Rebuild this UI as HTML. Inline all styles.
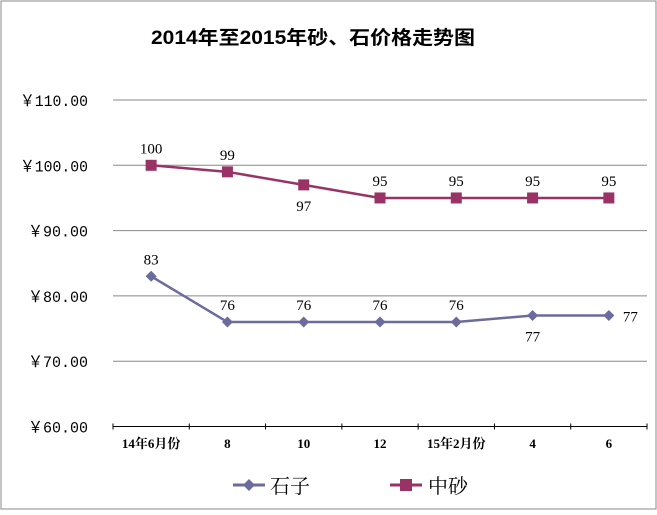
<!DOCTYPE html>
<html><head><meta charset="utf-8"><style>
body{margin:0;background:#fff}
svg text{font-family:"Liberation Serif","Noto Serif CJK SC",serif}
</style></head><body>
<svg width="657" height="510">
<rect x="1" y="1" width="655" height="508" fill="#fff" stroke="#888"/>
<text x="151" y="44" font-size="19" font-weight="bold" textLength="324" lengthAdjust="spacingAndGlyphs" style="font-family:'Liberation Sans','Noto Sans CJK SC',sans-serif">2014年至2015年砂、石价格走势图</text>
<g id="grid"></g><g id="axes"></g><g id="series"></g>
<g>
<g>
<line x1="233" y1="485" x2="265" y2="485" stroke="#6b6b9e" stroke-width="3"/>
<path d="M249,479 L255,485 L249,491 L243,485Z" fill="#6b6b9e"/>
<text x="270" y="493" font-size="20" style="font-family:'Noto Serif CJK SC',serif">石子</text></g>
<g>
<line x1="390" y1="485" x2="422" y2="485" stroke="#993366" stroke-width="3"/>
<rect x="400" y="479" width="12" height="12" fill="#993366"/>
<text x="428" y="493" font-size="20" style="font-family:'Noto Serif CJK SC',serif">中砂</text></g>
</g>
</svg>
<script>
const categories=["14年6月份","8","10","12","15年2月份","4","6"];
const shizi=[83,76,76,76,76,77,77];
const zhongsha=[100,99,97,95,95,95,95];
const yTicks=[60,70,80,90,100,110];
const NS="http://www.w3.org/2000/svg";
const L=113,R=647,Y0=426.5,Ypx=6.53;
const x=i=>L+(R-L)/categories.length*(i+0.5);
const y=v=>Y0-(v-60)*Ypx;
function mk(t,a,p){const e=document.createElementNS(NS,t);for(const k in a)e.setAttribute(k,a[k]);p.appendChild(e);return e;}
const grid=document.getElementById('grid'),axes=document.getElementById('axes'),ser=document.getElementById('series');
yTicks.forEach(v=>{
 if(v>60){const g=mk('line',{x1:L,x2:R,y1:y(v),y2:y(v),stroke:'#888','stroke-width':1},grid);
 
 }
 const lab='￥'+v.toFixed(2);
 const w=lab.length===7?68:60;
 const t=mk('text',{x:88-w,y:y(v)+6,'font-size':16,textLength:w,lengthAdjust:'spacingAndGlyphs',style:"font-family:'Liberation Mono','Noto Sans CJK SC',monospace"},axes);t.textContent=lab;
 
 
});
const ax=mk('line',{x1:L,x2:R,y1:Y0,y2:Y0,stroke:'#000','stroke-width':1},axes);


for(let i=0;i<=categories.length;i++){const tk=mk('line',{x1:L+(R-L)/categories.length*i,x2:L+(R-L)/categories.length*i,y1:Y0-3,y2:Y0+3,stroke:'#000'},axes);
 
 }
categories.forEach((c,i)=>{const t=mk('text',{x:x(i),y:448,'text-anchor':'middle','font-size':13,'font-weight':'bold'},axes);t.textContent=c;
 
 });
function draw(data,color,shape,name,labelBelow){
 const pl=mk('polyline',{points:data.map((v,i)=>x(i)+','+y(v)).join(' '),fill:'none',stroke:color,'stroke-width':2.5},ser);
 
 
 data.forEach((v,i)=>{
  let m;
  if(shape==='sq')m=mk('rect',{x:x(i)-5.5,y:y(v)-5.5,width:11,height:11,fill:color},ser);
  else m=mk('path',{d:`M${x(i)},${y(v)-5.5}L${x(i)+5.5},${y(v)}L${x(i)},${y(v)+5.5}L${x(i)-5.5},${y(v)}Z`,fill:color},ser);
  
  
  const b=labelBelow(i);
  const t=mk('text',{x:b==='r'?x(i)+14:x(i),y:b==='r'?y(v)+6:(b?y(v)+26:y(v)-12),'text-anchor':b==='r'?'start':'middle','font-size':15},ser);
  t.textContent=v;
  
  
 });
}
draw(zhongsha,'#993366','sq','zhongsha',i=>i===2);
draw(shizi,'#6b6b9e','dia','shizi',i=>i===5?true:(i===6?'r':false));
</script>
</body></html>
